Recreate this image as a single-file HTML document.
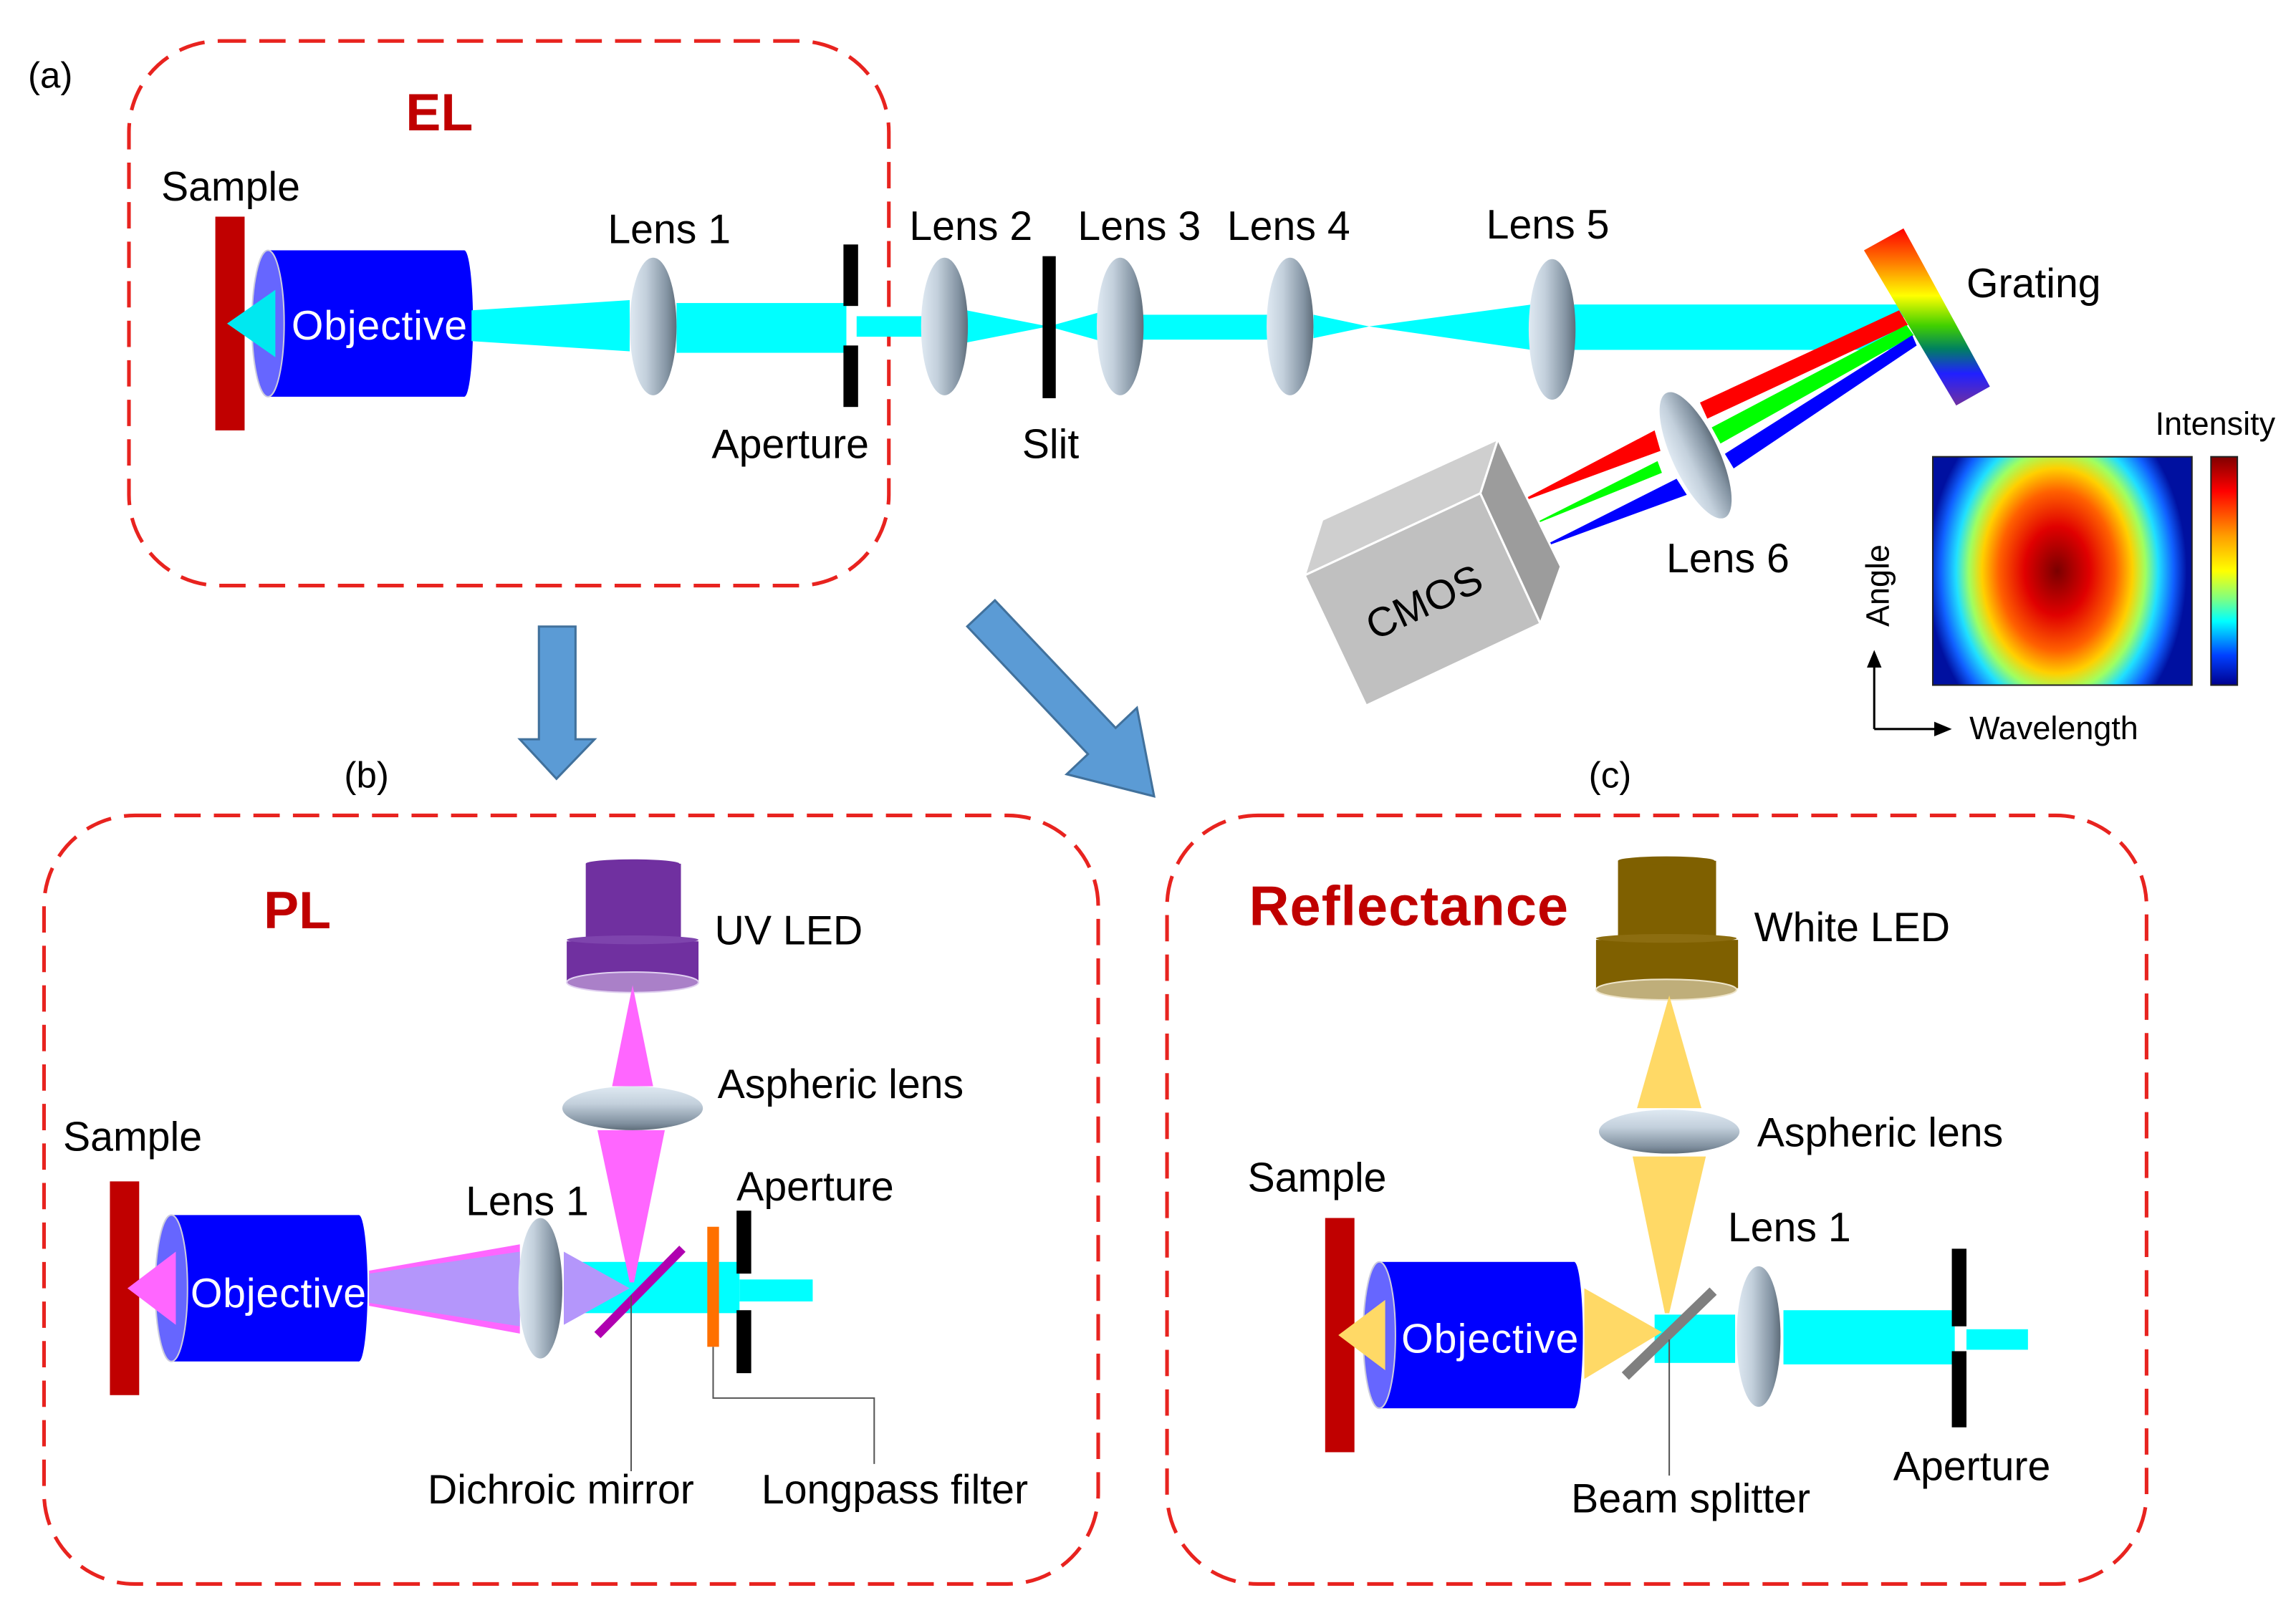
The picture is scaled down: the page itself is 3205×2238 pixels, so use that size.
<!DOCTYPE html>
<html><head><meta charset="utf-8"><style>
html,body{margin:0;padding:0;background:#fff;}
svg{display:block;}
text{font-family:"Liberation Sans",Arial,sans-serif;}
</style></head><body>
<svg width="3205" height="2238" viewBox="0 0 1568 1095" xmlns="http://www.w3.org/2000/svg">
<defs>
<linearGradient id="lens" x1="0" y1="0" x2="1" y2="0">
<stop offset="0" stop-color="#dfe9f2"/><stop offset="0.35" stop-color="#c3d0dc"/><stop offset="0.8" stop-color="#8393a2"/><stop offset="1" stop-color="#5f6d7a"/></linearGradient>
<linearGradient id="lensh" x1="0" y1="0" x2="0" y2="1">
<stop offset="0" stop-color="#dfe9f2"/><stop offset="0.4" stop-color="#c3d0dc"/><stop offset="0.85" stop-color="#7f8f9e"/><stop offset="1" stop-color="#5f6d7a"/></linearGradient>
<linearGradient id="rainbow" x1="0" y1="0" x2="0" y2="1">
<stop offset="0" stop-color="#ff0000"/><stop offset="0.2" stop-color="#ff8000"/><stop offset="0.38" stop-color="#ffff00"/><stop offset="0.55" stop-color="#40d000"/><stop offset="0.68" stop-color="#008060"/><stop offset="0.82" stop-color="#2020ff"/><stop offset="1" stop-color="#7030a0"/></linearGradient>
<radialGradient id="heat" cx="0.48" cy="0.5" r="0.5" gradientTransform="translate(0.48 0.5) scale(1 1.55) translate(-0.48 -0.5)">
<stop offset="0" stop-color="#7a0000"/><stop offset="0.25" stop-color="#e00000"/><stop offset="0.45" stop-color="#ff6000"/><stop offset="0.58" stop-color="#ffd000"/><stop offset="0.68" stop-color="#a0ff60"/><stop offset="0.78" stop-color="#20e0ff"/><stop offset="0.9" stop-color="#1060ff"/><stop offset="1" stop-color="#0010a0"/></radialGradient>
<linearGradient id="cbar" x1="0" y1="0" x2="0" y2="1">
<stop offset="0" stop-color="#800000"/><stop offset="0.15" stop-color="#ff0000"/><stop offset="0.35" stop-color="#ffa000"/><stop offset="0.5" stop-color="#ffff00"/><stop offset="0.62" stop-color="#80ff80"/><stop offset="0.72" stop-color="#00ffff"/><stop offset="0.87" stop-color="#0040ff"/><stop offset="1" stop-color="#00008f"/></linearGradient>
</defs>

<g fill="none" stroke="#e8231f" stroke-width="2.5" stroke-dasharray="18 9">
<rect x="88" y="28" width="519" height="372" rx="62"/>
<rect x="30" y="557" width="720" height="525" rx="62"/>
<rect x="797" y="557" width="669" height="525" rx="62"/>
</g>

<g font-size="26" fill="#000">
<text x="19" y="60" font-size="25">(a)</text>
<text x="235" y="538" font-size="25">(b)</text>
<text x="1085" y="538" font-size="25">(c)</text>
</g>
<text x="277" y="89" font-size="36" font-weight="bold" fill="#c00000">EL</text>
<text x="180" y="634" font-size="36" font-weight="bold" fill="#c00000">PL</text>
<text x="853" y="632" font-size="38" font-weight="bold" fill="#c00000" textLength="218">Reflectance</text>

<!-- (a) EL -->
<rect x="147" y="148" width="20" height="146" fill="#c00000"/>
<rect x="183" y="171" width="134" height="100" fill="#0000ff"/>
<ellipse cx="317" cy="221" rx="6" ry="50" fill="#0000ff"/>
<ellipse cx="183" cy="221" rx="11" ry="50" fill="#6666ff" stroke="#ccd" stroke-width="1"/>
<polygon points="155,221 188,198 188,244" fill="#00e8f0"/>
<text x="199" y="232" font-size="28" fill="#fff" textLength="120">Objective</text>
<polygon points="322,212 430,205 430,240 322,233" fill="#00ffff"/>
<rect x="462" y="207" width="116" height="34" fill="#00ffff"/>
<rect x="585" y="216" width="45" height="14" fill="#00ffff"/>
<polygon points="660,212 716,223 660,234" fill="#00ffff"/>
<polygon points="716,223 752,213 752,233" fill="#00ffff"/>
<rect x="780" y="215" width="86" height="17" fill="#00ffff"/>
<polygon points="897,215 935,223 897,231" fill="#00ffff"/>
<polygon points="935,223 1046,208 1046,239" fill="#00ffff"/>
<rect x="1075" y="208" width="225" height="31" fill="#00ffff"/>
<rect x="576" y="167" width="10" height="42" fill="#000"/>
<rect x="576" y="236" width="10" height="42" fill="#000"/>
<rect x="712" y="175" width="9" height="97" fill="#000"/>
<ellipse cx="446" cy="223" rx="16" ry="47" fill="url(#lens)"/>
<ellipse cx="645" cy="223" rx="16" ry="47" fill="url(#lens)"/>
<ellipse cx="765" cy="223" rx="16" ry="47" fill="url(#lens)"/>
<ellipse cx="881" cy="223" rx="16" ry="47" fill="url(#lens)"/>
<ellipse cx="1060" cy="225" rx="16" ry="48" fill="url(#lens)"/>

<!-- rays -->
<polygon points="1297,212 1303,222 1166,286 1161,275" fill="#ff0000"/>
<polygon points="1130,294 1134,308 1033,345" fill="#ff0000"/>
<polygon points="1302,222 1307,229 1175,303 1169,292" fill="#00ff00"/>
<polygon points="1132,315 1135,323 1041,361" fill="#00ff00"/>
<polygon points="1306,229 1309,236 1184,320 1178,310" fill="#0000ff"/>
<polygon points="1145,327 1152,338 1048,376" fill="#0000ff"/>
<ellipse cx="1158" cy="311" rx="16" ry="47" fill="url(#lens)" transform="rotate(-25 1158 311)"/>
<polygon points="1273,171 1300,156 1359,264 1336,277" fill="url(#rainbow)"/>

<!-- CMOS -->
<polygon points="891,393 903,355 1023,300 1011,337" fill="#cfcfcf" stroke="#fff" stroke-width="1.5"/>
<polygon points="891,393 1011,337 1052,426 933,482" fill="#c0c0c0" stroke="#fff" stroke-width="1.5"/>
<polygon points="1011,337 1023,300 1066,387 1052,426" fill="#9c9c9c" stroke="#fff" stroke-width="1.5"/>
<text x="972" y="421" font-size="28" text-anchor="middle" transform="rotate(-25 972 410)">CMOS</text>

<!-- heatmap -->
<rect x="1320" y="312" width="177" height="156" fill="url(#heat)" stroke="#222" stroke-width="1"/>
<rect x="1510" y="312" width="18" height="156" fill="url(#cbar)" stroke="#222" stroke-width="1"/>
<text x="1472" y="297" font-size="22">Intensity</text>
<text x="1290" y="400" font-size="22" text-anchor="middle" transform="rotate(-90 1290 400)">Angle</text>
<text x="1345" y="505" font-size="22">Wavelength</text>
<line x1="1280" y1="498" x2="1280" y2="455" stroke="#000" stroke-width="1.5"/>
<polygon points="1280,444 1275,456 1285,456" fill="#000"/>
<line x1="1280" y1="498" x2="1322" y2="498" stroke="#000" stroke-width="1.5"/>
<polygon points="1333,498 1321,493 1321,503" fill="#000"/>

<g font-size="28" fill="#000">
<text x="110" y="137">Sample</text>
<text x="415" y="166">Lens 1</text>
<text x="621" y="164">Lens 2</text>
<text x="736" y="164">Lens 3</text>
<text x="838" y="164">Lens 4</text>
<text x="1015" y="163">Lens 5</text>
<text x="1343" y="203">Grating</text>
<text x="1138" y="391">Lens 6</text>
<text x="486" y="313">Aperture</text>
<text x="698" y="313">Slit</text>
</g>

<!-- big arrows -->
<polygon points="368,428 393,428 393,505 406,505 380,532 355,505 368,505" fill="#5b9bd5" stroke="#41719c" stroke-width="1.5"/>
<polygon points="0,-13 120,-13 120,-33 172,0 120,33 120,13 0,13" fill="#5b9bd5" stroke="#41719c" stroke-width="1.5" transform="translate(670,419) rotate(46.6)"/>

<!-- (b) PL -->
<rect x="75" y="807" width="20" height="146" fill="#c00000"/>
<rect x="117" y="830" width="128" height="100" fill="#0000ff"/>
<ellipse cx="245" cy="880" rx="6" ry="50" fill="#0000ff"/>
<ellipse cx="117" cy="880" rx="11" ry="50" fill="#6666ff" stroke="#ccd" stroke-width="1"/>
<polygon points="87,880 120,855 120,905" fill="#ff66ff"/>
<text x="130" y="893" font-size="28" fill="#fff" textLength="120">Objective</text>
<polygon points="252,868 355,850 355,911 252,892" fill="#ff66ff"/>
<polygon points="252,870 355,855 355,906 252,890" fill="#b496fb"/>
<rect x="385" y="862" width="120" height="35" fill="#00ffff"/>
<rect x="505" y="874" width="50" height="15" fill="#00ffff"/>
<polygon points="385,855 430,880 385,905" fill="#b496fb"/>
<rect x="400" y="590" width="65" height="52" fill="#7030a0"/>
<ellipse cx="432" cy="590" rx="32" ry="3" fill="#7030a0"/>
<rect x="387" y="643" width="90" height="28" fill="#7030a0"/>
<ellipse cx="432" cy="642" rx="45" ry="3" fill="#7e44ad"/>
<ellipse cx="432" cy="671" rx="45" ry="7" fill="#aa80c8" stroke="#e0d0f0" stroke-width="1"/>
<polygon points="432,673 418,742 446,742" fill="#ff66ff"/>
<polygon points="408,772 454,772 433,876 430,876" fill="#ff66ff"/>
<ellipse cx="432" cy="757" rx="48" ry="15" fill="url(#lensh)"/>
<ellipse cx="369" cy="880" rx="15" ry="48" fill="url(#lens)"/>
<line x1="408" y1="912" x2="466" y2="853" stroke="#b000b0" stroke-width="6"/>
<rect x="483" y="838" width="8" height="82" fill="#ff7000"/>
<rect x="503" y="827" width="10" height="43" fill="#000"/>
<rect x="503" y="895" width="10" height="43" fill="#000"/>
<g stroke="#555" stroke-width="1" fill="none">
<line x1="431" y1="885" x2="431" y2="1005"/>
<polyline points="487,920 487,955 597,955 597,1000"/>
</g>
<g font-size="28" fill="#000">
<text x="43" y="786">Sample</text>
<text x="318" y="830">Lens 1</text>
<text x="488" y="645">UV LED</text>
<text x="490" y="750">Aspheric lens</text>
<text x="503" y="820">Aperture</text>
<text x="292" y="1027">Dichroic mirror</text>
<text x="520" y="1027">Longpass filter</text>
</g>

<!-- (c) Reflectance -->
<rect x="905" y="832" width="20" height="160" fill="#c00000"/>
<rect x="942" y="862" width="133" height="100" fill="#0000ff"/>
<ellipse cx="1075" cy="912" rx="6" ry="50" fill="#0000ff"/>
<ellipse cx="942" cy="912" rx="11" ry="50" fill="#6666ff" stroke="#ccd" stroke-width="1"/>
<polygon points="914,912 946,888 946,936" fill="#ffd966"/>
<text x="957" y="924" font-size="28" fill="#fff" textLength="121">Objective</text>
<rect x="1130" y="898" width="55" height="33" fill="#00ffff"/>
<rect x="1218" y="895" width="117" height="37" fill="#00ffff"/>
<rect x="1343" y="908" width="42" height="14" fill="#00ffff"/>
<polygon points="1082,880 1135,910 1082,942" fill="#ffd966"/>
<rect x="1105" y="588" width="67" height="53" fill="#7f6000"/>
<ellipse cx="1138" cy="588" rx="33" ry="3" fill="#7f6000"/>
<rect x="1090" y="642" width="97" height="33" fill="#7f6000"/>
<ellipse cx="1138" cy="641" rx="48" ry="3" fill="#8c6d10"/>
<ellipse cx="1138" cy="676" rx="48" ry="7" fill="#bfae7a" stroke="#eee4c8" stroke-width="1"/>
<polygon points="1140,680 1118,757 1162,757" fill="#ffd966"/>
<polygon points="1115,790 1165,790 1140,897 1137,897" fill="#ffd966"/>
<ellipse cx="1140" cy="773" rx="48" ry="15" fill="url(#lensh)"/>
<ellipse cx="1201" cy="913" rx="15" ry="48" fill="url(#lens)"/>
<line x1="1110" y1="940" x2="1170" y2="882" stroke="#7f7f7f" stroke-width="7"/>
<rect x="1333" y="853" width="10" height="53" fill="#000"/>
<rect x="1333" y="923" width="10" height="52" fill="#000"/>
<line x1="1140" y1="915" x2="1140" y2="1008" stroke="#555" stroke-width="1"/>
<g font-size="28" fill="#000">
<text x="852" y="814">Sample</text>
<text x="1180" y="848">Lens 1</text>
<text x="1198" y="643">White LED</text>
<text x="1200" y="783">Aspheric lens</text>
<text x="1293" y="1011">Aperture</text>
<text x="1073" y="1033">Beam splitter</text>
</g>
</svg>
</body></html>
